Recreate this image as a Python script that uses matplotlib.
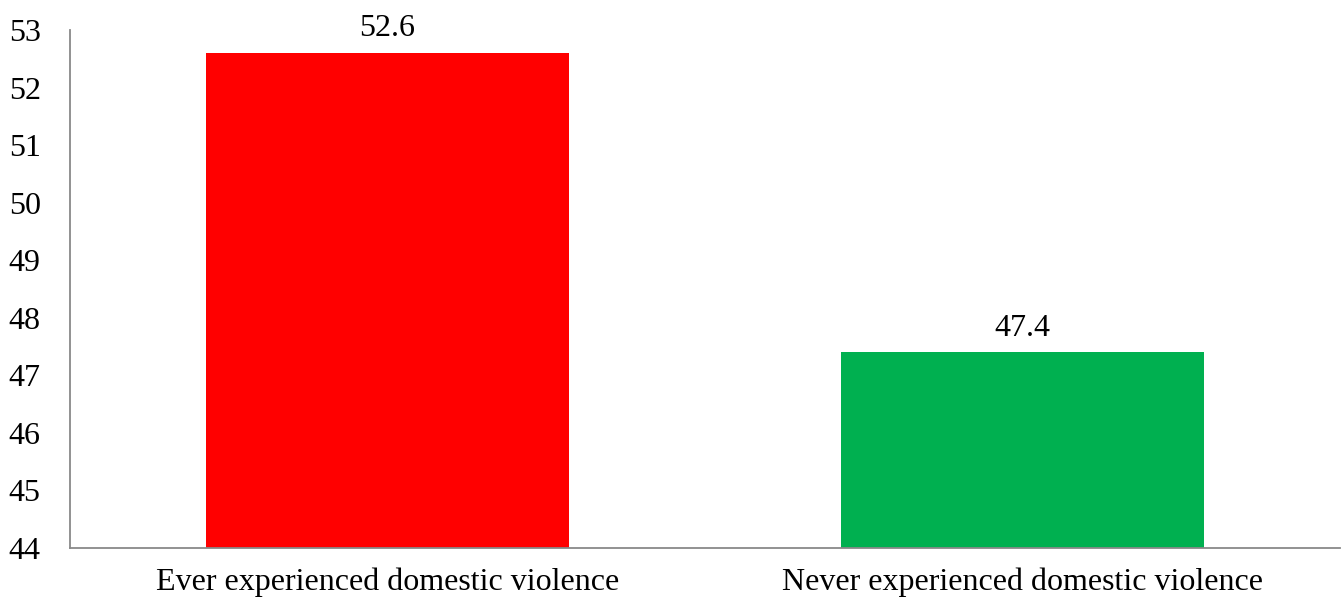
import matplotlib.pyplot as plt

categories = ['Ever experienced domestic violence', 'Never experienced domestic violence']
values = [52.6, 47.4]
colors = ['#FF0000', '#00B050']
yticks = [44, 45, 46, 47, 48, 49, 50, 51, 52, 53]

plt.rcParams['font.family'] = ['Liberation Serif', 'DejaVu Serif']

# initialize figure
fig = plt.figure(figsize=(13.43, 6.05), dpi=100)
ax = fig.add_axes([70 / 1343, 1 - 548 / 605, 1270 / 1343, 518 / 605])

x = list(range(len(categories)))
bars = ax.bar(x, values, width=0.573, color=colors, zorder=2)

# value labels above the bars
for xi, v in zip(x, values):
    ax.text(xi, v + 0.17, f'{v}', ha='center', va='bottom', fontsize=23)

ax.set_xlim(-0.5, 1.5)
ax.set_ylim(44, 53)
ax.set_yticks(yticks)
ax.set_xticks(x)
ax.set_xticklabels(categories)
ax.tick_params(axis='both', length=0, labelsize=23)
ax.tick_params(axis='y', pad=21)
ax.tick_params(axis='x', pad=14)

for side in ['top', 'right']:
    ax.spines[side].set_visible(False)
for side in ['left', 'bottom']:
    ax.spines[side].set_color('#898989')
    ax.spines[side].set_linewidth(1.3)

plt.savefig('out.png', dpi=100)
